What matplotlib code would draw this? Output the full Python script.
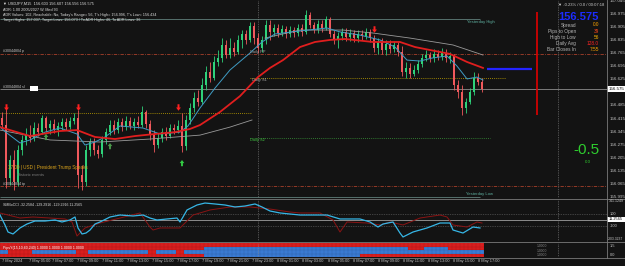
import matplotlib
matplotlib.use("Agg")
import numpy as np
import matplotlib.pyplot as plt
import matplotlib.transforms as mtransforms
from matplotlib.colors import ListedColormap
from matplotlib.lines import Line2D
from matplotlib.patches import Rectangle
from matplotlib.path import Path

plt.rcParams['font.family'] = ['Liberation Sans', 'DejaVu Sans']

W, H = 625, 266
BG = "#131313"
BULL = "#2fd27a"
BEAR = "#f0595c"

# ---------------- data: USDJPY M15 ----------------
first_open = 156.418
closes = [156.380, 156.096, 156.192, 156.074, 156.246, 156.300, 156.326, 156.310, 156.364, 156.342,
          156.418, 156.364, 156.385, 156.353, 156.375, 156.396, 156.369, 156.401, 156.418, 156.112,
          156.074, 156.246, 156.289, 156.246, 156.225, 156.300, 156.342, 156.380, 156.353, 156.396,
          156.369, 156.401, 156.375, 156.396, 156.380, 156.450, 156.385, 156.326, 156.273, 156.310,
          156.342, 156.321, 156.364, 156.353, 156.375, 156.267, 156.407, 156.471, 156.525, 156.503,
          156.594, 156.664, 156.632, 156.718, 156.739, 156.809, 156.755, 156.793, 156.771, 156.836,
          156.868, 156.836, 156.911, 156.846, 156.793, 156.836, 156.916, 156.879, 156.900, 156.873,
          156.895, 156.868, 156.889, 156.873, 156.900, 156.879, 156.970, 156.916, 156.889, 156.921,
          156.900, 156.948, 156.868, 156.836, 156.857, 156.879, 156.852, 156.873, 156.846, 156.868,
          156.857, 156.879, 156.846, 156.793, 156.825, 156.782, 156.814, 156.787, 156.809, 156.771,
          156.664, 156.686, 156.653, 156.675, 156.707, 156.739, 156.755, 156.739, 156.761, 156.745,
          156.766, 156.739, 156.750, 156.594, 156.557, 156.471, 156.503, 156.557, 156.632, 156.610,
          156.575]
highs = [156.450, 156.482, 156.219, 156.246, 156.273, 156.326, 156.364, 156.380, 156.396, 156.391,
         156.434, 156.428, 156.407, 156.412, 156.396, 156.418, 156.418, 156.423, 156.444, 156.460,
         156.166, 156.273, 156.310, 156.310, 156.273, 156.321, 156.364, 156.407, 156.407, 156.418,
         156.418, 156.428, 156.423, 156.418, 156.428, 156.482, 156.460, 156.407, 156.353, 156.337,
         156.364, 156.369, 156.385, 156.385, 156.407, 156.444, 156.434, 156.498, 156.557, 156.568,
         156.632, 156.696, 156.718, 156.750, 156.782, 156.846, 156.836, 156.846, 156.825, 156.862,
         156.889, 156.889, 156.932, 156.932, 156.873, 156.857, 156.943, 156.943, 156.921, 156.921,
         156.916, 156.911, 156.911, 156.905, 156.921, 156.921, 156.996, 156.986, 156.932, 156.943,
         156.943, 156.964, 156.959, 156.889, 156.879, 156.900, 156.900, 156.895, 156.889, 156.889,
         156.889, 156.900, 156.895, 156.862, 156.846, 156.846, 156.836, 156.836, 156.830, 156.825,
         156.803, 156.718, 156.712, 156.702, 156.728, 156.761, 156.782, 156.771, 156.787, 156.782,
         156.793, 156.787, 156.771, 156.761, 156.621, 156.594, 156.525, 156.578, 156.664, 156.659,
         156.632]
lows = [156.364, 156.042, 156.058, 156.032, 156.053, 156.219, 156.273, 156.289, 156.294, 156.321,
        156.332, 156.342, 156.332, 156.337, 156.321, 156.353, 156.353, 156.359, 156.385, 156.042,
        156.032, 156.053, 156.214, 156.219, 156.203, 156.209, 156.278, 156.326, 156.332, 156.337,
        156.348, 156.353, 156.359, 156.353, 156.364, 156.369, 156.364, 156.300, 156.235, 156.257,
        156.289, 156.300, 156.310, 156.332, 156.337, 156.235, 156.246, 156.385, 156.450, 156.482,
        156.493, 156.568, 156.610, 156.621, 156.696, 156.718, 156.739, 156.739, 156.750, 156.761,
        156.793, 156.814, 156.825, 156.814, 156.766, 156.771, 156.814, 156.836, 156.857, 156.852,
        156.857, 156.846, 156.852, 156.852, 156.857, 156.857, 156.868, 156.900, 156.873, 156.873,
        156.879, 156.889, 156.852, 156.814, 156.793, 156.836, 156.830, 156.830, 156.825, 156.825,
        156.836, 156.841, 156.825, 156.771, 156.761, 156.761, 156.755, 156.766, 156.771, 156.750,
        156.643, 156.632, 156.632, 156.643, 156.659, 156.691, 156.723, 156.718, 156.718, 156.728,
        156.728, 156.718, 156.712, 156.568, 156.525, 156.434, 156.444, 156.493, 156.541, 156.594,
        156.557]
opens = [first_open] + closes[:-1]
bars = list(range(len(closes)))

# moving averages (bar index, price)
ma_red_x = [-0.5, 7, 14.5, 18.75, 23.25, 28.25, 33.25, 38.25, 43.25, 47, 49.5, 54.5, 59.5, 64,
            67, 70.25, 74.5, 78.25, 82, 85.75, 92.75, 99.5, 103.25, 107, 112, 116.25, 120.25]
ma_red_y = [156.369, 156.321, 156.348, 156.353, 156.316, 156.305, 156.321, 156.332, 156.342,
            156.359, 156.380, 156.450, 156.535, 156.637, 156.686, 156.728, 156.798, 156.825,
            156.836, 156.841, 156.825, 156.825, 156.798, 156.782, 156.761, 156.718, 156.686]
ma_teal_x = [-0.5, 1.25, 4.5, 7, 10.75, 14.5, 18.75, 20.75, 23.25, 25.75, 29.5, 35.25, 39.5,
             44.5, 46.5, 49.5, 53.25, 57, 62, 65, 68.25, 74.5, 81.25, 84.5, 89.5, 94.5, 98.25,
             101.25, 104.5, 107.5, 111.25, 113.75, 116.25, 118.75, 120.25]
ma_teal_y = [156.369, 156.337, 156.284, 156.300, 156.342, 156.364, 156.332, 156.273, 156.289,
             156.316, 156.375, 156.364, 156.332, 156.342, 156.375, 156.471, 156.578, 156.675,
             156.766, 156.825, 156.868, 156.884, 156.900, 156.879, 156.862, 156.836, 156.798,
             156.728, 156.723, 156.739, 156.750, 156.696, 156.627, 156.637, 156.621]
gray_lo_x = [-0.5, 12, 24.5, 37, 49.5, 57, 62.5]
gray_lo_y = [156.353, 156.300, 156.289, 156.305, 156.326, 156.369, 156.407]
gray_hi_x = [65.75, 74.5, 85.25, 92.75, 102, 112.75, 118.75, 120.25]
gray_hi_y = [156.846, 156.889, 156.889, 156.873, 156.846, 156.809, 156.766, 156.755]

sell_bars = [1, 19, 44, 93]
sell_prices = [156.478, 156.478, 156.478, 156.892]
buy_bars = [11, 27, 45]
buy_prices = [156.316, 156.267, 156.176]

# levels
order_price = 156.761
tp_price = 156.053
bid = 156.575
prev_close = 156.444
daily_s1 = 156.632
daily_s2 = 156.310
yest_high = 156.950
yest_low = 155.995
day_starts = [64, 139]

# CCI sub window
cci_x = [-0.5, 0.75, 1.5, 2.75, 4.5, 6.25, 8.25, 10.75, 13.25, 15, 17, 18.25, 19, 20, 21, 22,
         23.25, 24.5, 27, 29.5, 32.75, 35.25, 37, 38.75, 41.25, 43.75, 44.5, 45.25, 46.25, 48.75,
         50.75, 53.25, 55.75, 58.25, 60.75, 63.25, 65, 67, 69.5, 72, 74.5, 77, 81.25, 84.5, 89.5,
         92, 94, 95.25, 97.75, 99.5, 100.25, 102.75, 106.25, 109.5, 112, 112.75, 115.25, 117.75,
         119.5]
cci_main = [83, -83, -200, -233, -133, -67, -17, -17, 0, -33, 0, 50, -133, -233, -217, -167,
            -67, -33, 50, 83, 67, 83, 33, 0, 17, 33, -33, 50, 167, 250, 283, 267, 250, 217, 233,
            267, 217, 150, 117, 100, 83, 83, 83, 17, 17, -33, -117, -67, -33, -217, -283, -200,
            -133, -50, -50, -167, -217, -117, -133]
sig_x = [-0.5, 4.5, 7.75, 12, 15.75, 17.5, 18.75, 20.75, 24.5, 29.5, 34.5, 37, 37.75, 39.5,
         44.5, 47.75, 52, 57, 62, 67, 72, 74.5, 79.5, 82.75, 84.5, 86.25, 91.25, 94.5, 97,
         100.25, 104.5, 109.5, 111.25, 112.75, 116.25, 118.75, 120]
cci_signal = [117, 33, 50, 33, 17, -33, -267, -133, -50, 33, 117, -117, -167, -133, -133, 83,
              167, 217, 217, 183, 133, 117, 117, 0, -200, -33, -50, -83, -33, -83, 33, 83, 50,
              -83, -117, -33, -50]

# heat strip, 4 rows, run lengths of red (r) / blue (b) cells
heat_rows = [
    [("r", 121)],
    [("r", 51), ("b", 51), ("r", 4), ("b", 6), ("r", 9)],
    [("b", 2), ("r", 6), ("b", 11), ("r", 3), ("b", 15), ("r", 2), ("b", 5), ("r", 2), ("b", 75)],
    [("r", 51), ("b", 39), ("r", 31)],
]

price_ticks = [157.045, 156.975, 156.905, 156.835, 156.765, 156.695, 156.625, 156.485,
               156.415, 156.345, 156.275, 156.205, 156.135, 156.065, 155.995]
time_pos = [0, 6.75, 12.5, 18.75, 25, 31.25, 37.5, 43.75, 50, 56.25, 62.5, 68.75, 75, 81.5,
            87.75, 94, 100.25, 106.5, 112.75, 119]
time_labels = ["7 May 2024", "7 May 05:00", "7 May 07:00", "7 May 09:00", "7 May 11:00",
               "7 May 13:00", "7 May 15:00", "7 May 17:00", "7 May 19:00", "7 May 21:00",
               "7 May 23:00", "8 May 01:00", "8 May 03:00", "8 May 05:00", "8 May 07:00",
               "8 May 09:00", "8 May 11:00", "8 May 13:00", "8 May 15:00", "8 May 17:00"]

info_labels = ["Spread", "Pips to Open", "High to Low", "Daily Avg", "Bar Closes In"]
info_values = ["0.0", "39", "56", "128.0", "7:55"]
info_colors = ["#ffa500", "#ff4a1c", "#ffb400", "#ff2424", "#ffa500"]

# ---------------- figure ----------------
fig = plt.figure(figsize=(W / 100, H / 100), dpi=100, facecolor=BG)


def rect(x0, y0, x1, y1):
    return [x0 / W, 1 - y1 / H, (x1 - x0) / W, (y1 - y0) / H]


def ftext(x, y, s, **kw):
    kw.setdefault("va", "center")
    fig.text(x / W, 1 - y / H, s, **kw)


ax = fig.add_axes(rect(0, 0, 607, 198))
cci = fig.add_axes(rect(0, 199, 607, 241))
hm = fig.add_axes(rect(0, 243, 607, 257))
for a in (ax, cci, hm):
    a.set_facecolor(BG)
    a.set_xlim(-0.5, 151.25)
    a.set_xticks([])
    a.set_yticks([])
    for s in a.spines.values():
        s.set_visible(False)
ax.set_ylim(155.989, 157.050)
cci.set_ylim(-350, 350)
hm.set_ylim(4, 0)

# level lines
dashdot = (0, (4, 1.5, 1, 1.5))
dotted = (0, (1, 1.5))
ax.hlines([order_price, tp_price], -0.5, 151.25, colors="#a8402a", linestyles=[dashdot], lw=0.6)
ax.hlines(bid, -0.5, 151.25, colors="#8c8c8c", lw=0.6)
ax.hlines(prev_close, -0.5, 62.5, colors="#c8a800", linestyles=[dotted], lw=0.6)
ax.hlines(daily_s1, 62, 125.75, colors="#c8a800", linestyles=[dotted], lw=0.6)
ax.hlines(daily_s2, 62, 122, colors="#3a9a3a", linestyles=[dotted], lw=0.6)
ax.hlines([yest_high, yest_low], -0.5, 119.5, colors="#607f7a", lw=0.6)
for a in (ax, cci, hm):
    for d in day_starts:
        a.axvline(d, color="#8a8a8a", ls=dotted, lw=0.5, zorder=3)

# candles
cols = [BULL if c >= o else BEAR for o, c in zip(opens, closes)]
ax.vlines(bars, lows, highs, colors=cols, lw=0.6, zorder=3)
bottoms = [min(o, c) for o, c in zip(opens, closes)]
heights = [max(abs(c - o), 0.002) for o, c in zip(opens, closes)]
ax.bar(bars, heights, bottom=bottoms, width=0.72, color=cols, lw=0, zorder=4)

# moving averages
ax.plot(gray_lo_x, gray_lo_y, color="#9a9a9a", lw=0.6, zorder=5)
ax.plot(gray_hi_x, gray_hi_y, color="#9a9a9a", lw=0.6, zorder=5)
ax.plot(ma_teal_x, ma_teal_y, color="#3f9cc4", lw=0.7, zorder=5)
ax.plot(ma_red_x, ma_red_y, color="#e01e1e", lw=1.3, zorder=6)

# signal arrows
down_arrow = Path([(-0.3, 1), (0.3, 1), (0.3, 0), (0.75, 0), (0, -1), (-0.75, 0), (-0.3, 0),
                   (-0.3, 1)], closed=True)
up_arrow = Path([(-0.3, -1), (0.3, -1), (0.3, 0), (0.75, 0), (0, 1), (-0.75, 0), (-0.3, 0),
                 (-0.3, -1)], closed=True)
ax.scatter(sell_bars, sell_prices, marker=down_arrow, s=22, color="#ff2020", lw=0, zorder=7)
ax.scatter(buy_bars, buy_prices, marker=up_arrow, s=20, color=["#4a9a4a", "#4a9a4a", "#33cc44"],
           lw=0, zorder=7)

# right side objects
ax.vlines(133.75, 156.434, 156.986, colors="#e00000", lw=1.2, zorder=6)
ax.hlines(156.680, 121.25, 132.5, colors="#2424ff", lw=1.6, zorder=6)

# CCI window
cci.axhline(100, color="#6e6e6e", ls=dotted, lw=0.5)
cci.axhline(-100, color="#6e6e6e", ls=dotted, lw=0.5)
cci.axhline(0, color="#a0a0a0", lw=0.6)
cci.plot(sig_x, cci_signal, color="#8b1414", lw=0.7, zorder=3)
cci.plot(cci_x, cci_main, color="#36b6e6", lw=0.9, zorder=4)
cci.text(0.005, 0.86, "SMBoCCI -32.2584 -129.2916 -129.2916 11.2565", transform=cci.transAxes,
         fontsize=2.6, color="#d8d8d8", va="center")

# heat strip
grid = []
for runs in heat_rows:
    row = []
    for c, n in runs:
        row += [1 if c == "b" else 0] * n
    grid.append(row)
grid = np.array(grid)
xe = np.arange(-0.5, grid.shape[1], 1.0)
hm.pcolormesh(xe, np.arange(0, grid.shape[0] + 1), grid,
              cmap=ListedColormap(["#d81e1e", "#3a7ad2"]), edgecolors="none", linewidth=0)
hm.vlines(xe, 0, grid.shape[0], colors="black", lw=0.15, alpha=0.35, zorder=2)
hm.hlines(np.arange(1, grid.shape[0]), xe[0], xe[-1], colors="black", lw=0.15, alpha=0.35,
          zorder=2)
hm.text(0.005, 0.64, "PipsY(15,10,60,240) 1.0000 1.0000 1.0000 1.0000", transform=hm.transAxes,
        fontsize=2.6, color="white", va="center", zorder=4)

# time axis
tr = mtransforms.blended_transform_factory(hm.transData, hm.transAxes)
for p, lab in zip(time_pos, time_labels):
    hm.text(p, -0.3, lab, transform=tr, fontsize=2.8, color="#c8c8c8", ha="left", va="center",
            clip_on=False)

# price scale
for p in price_ticks:
    ax.text(1.005, p, f"{p:.3f}", transform=ax.get_yaxis_transform(), fontsize=3.2,
            color="#c8c8c8", va="center", clip_on=False)
fig.patches.append(Rectangle((607 / W, 1 - 92 / H), 18 / W, 6 / H, transform=fig.transFigure,
                             facecolor="white", edgecolor="none"))
ftext(609, 89, f"{bid:.3f}", fontsize=3.2, color="black")
ftext(609, 201, "341.1249", fontsize=2.6, color="#c8c8c8")
ftext(610, 214, "100", fontsize=2.8, color="#c8c8c8")
fig.patches.append(Rectangle((607 / W, 1 - 222 / H), 18 / W, 5.5 / H, transform=fig.transFigure,
                             facecolor="white", edgecolor="none"))
ftext(609, 219.3, "11.2565", fontsize=2.8, color="black")
ftext(610, 226, "-100", fontsize=2.8, color="#c8c8c8")
ftext(608, 239, "-303.3237", fontsize=2.4, color="#c8c8c8")
ftext(610, 246, "1.5", fontsize=2.8, color="#c8c8c8")
ftext(610, 255, "0.0", fontsize=2.8, color="#c8c8c8")
for yy in (246, 250.5, 255):
    ftext(537, yy, "1.0000", fontsize=2.4, color="#8a8a8a")

# window borders
sep = "#7a7a7a"
fig.add_artist(Line2D([607 / W, 607 / W], [1 - 258 / H, 1], color=sep, lw=0.6))
for yy in (198.5, 242, 257.5):
    fig.add_artist(Line2D([0, 1], [1 - yy / H, 1 - yy / H], color=sep, lw=0.6))

# header text
head = "#dcdcdc"
ftext(3, 4, "\u25bc USDJPY,M15  156.603 156.607 156.556 156.575", fontsize=2.8, color=head)
ftext(3, 10, "ADR: 1.00 2005/2027 W, Med 93", fontsize=2.7, color=head)
ftext(3, 15, "ADR Values: 102, Reachable: No, Today's Range= 56, T's High= 156.996, "
      "T's Low= 156.434", fontsize=2.7, color=head)
ftext(3, 20, "Target Highs: 157.037, Target Lows: 156.073 / To ADR Highs: 46, To ADR Lows: 36",
      fontsize=2.7, color=head)

# object labels
ftext(3, 51, "#30044804 p", fontsize=2.6, color="#c8c8c8")
ftext(3, 87.5, "#30044804 sl", fontsize=2.6, color="#c8c8c8")
fig.patches.append(Rectangle((30 / W, 1 - 90.5 / H), 8 / W, 5 / H, transform=fig.transFigure,
                             facecolor="white", edgecolor="none"))
ftext(3, 184, "#30044804 tp", fontsize=2.6, color="#c8c8c8")
ftext(8, 167, "17:00 | USD | President Trump Speaks", fontsize=3.3, color="#d9a21b")
ftext(17, 175, "Historic events", fontsize=3.0, color="#7d7d7d")
ftext(481, 22, "Yesterday High", fontsize=3.0, color="#5fb0a0", ha="center")
ftext(480, 194.5, "Yesterday Low", fontsize=3.0, color="#5fb0a0", ha="center")
ftext(250, 51.5, "Daily PP", fontsize=2.9, color="#a0a0a0")
ftext(252, 80.5, "Daily S1", fontsize=2.9, color="#a0a0a0")
ftext(250, 140.5, "Daily S2", fontsize=2.9, color="#3fbf3f")

# info panel
ftext(558, 5, "\u25bc -0.23% / 0.0 / 00:07:18", fontsize=3.0, color="#d0d0d0")
ftext(578, 17, f"{bid:.3f}", fontsize=8, fontweight="bold", color="#1c2cff", ha="center")
for k, (lab, val, c) in enumerate(zip(info_labels, info_values, info_colors)):
    yy = 25 + 6.2 * k
    ftext(576, yy, lab, fontsize=3.4, color="#b8b8b8", ha="right")
    ftext(599, yy, val, fontsize=3.4, color=c, ha="right")
ftext(586, 150, "-0.5", fontsize=11, color="#2ecc2e", ha="center")
ftext(588, 162, "0.0", fontsize=3.2, color="#2ecc2e", ha="center")

fig.savefig("out.png", dpi=100, facecolor=BG)
